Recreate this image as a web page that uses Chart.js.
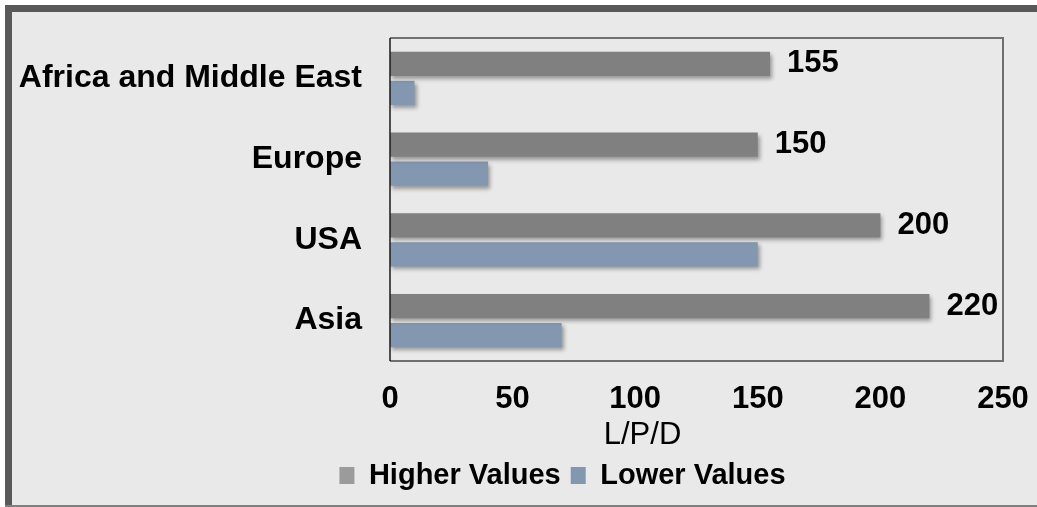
<!DOCTYPE html>
<html>
<head>
<meta charset="utf-8">
<script src="https://cdn.jsdelivr.net/npm/chart.js@4/dist/chart.umd.min.js"></script>
<style>
  html, body { margin: 0; padding: 0; background: #fff; }
  #wrap { width: 1037px; height: 507px; }
</style>
</head>
<body>
<div id="wrap"><canvas id="waterChart" width="1037" height="507"></canvas></div>
<script>
'use strict';

// data
const regions = ['Africa and Middle East', 'Europe', 'USA', 'Asia'];
const higherValues = [155, 150, 200, 220];
const lowerValues = [10, 40, 150, 70];
const xTicks = [0, 50, 100, 150, 200, 250];

const FONT = '"Liberation Sans", Arial, sans-serif';

// frame, panel background and the plot border
const framePlugin = {
    id: 'frame',
    beforeDraw(chart) {
        const ctx = chart.ctx;
        ctx.save();
        ctx.fillStyle = '#ffffff';
        ctx.fillRect(0, 0, chart.width, chart.height);
        ctx.fillStyle = '#e9e9e9';
        ctx.fillRect(5, 5, chart.width - 5, chart.height - 7);
        ctx.fillStyle = '#595959';
        ctx.fillRect(5, 5, chart.width - 5, 7);
        ctx.fillRect(5, 5, 7, chart.height - 5);
        ctx.fillStyle = '#7f7f7f';
        ctx.fillRect(5, chart.height - 2, chart.width - 5, 2);
        ctx.restore();
    },
    beforeDatasetsDraw(chart) {
        const ctx = chart.ctx;
        ctx.save();
        ctx.shadowColor = 'rgba(0,0,0,0.35)';
        ctx.shadowBlur = 4;
        ctx.shadowOffsetX = 2;
        ctx.shadowOffsetY = 3;
    },
    afterDatasetsDraw(chart) {
        const ctx = chart.ctx;
        ctx.restore();
        const a = chart.chartArea;
        ctx.save();
        ctx.strokeStyle = '#707070';
        ctx.lineWidth = 2;
        ctx.beginPath();
        ctx.moveTo(a.left, a.top);
        ctx.lineTo(a.right, a.top);
        ctx.lineTo(a.right, a.bottom);
        ctx.lineTo(a.left, a.bottom);
        ctx.stroke();
        ctx.strokeStyle = '#1a1a1a';
        ctx.lineWidth = 1.5;
        ctx.beginPath();
        ctx.moveTo(a.left, a.top);
        ctx.lineTo(a.left, a.bottom);
        ctx.stroke();

        // value labels for the higher series
        const meta = chart.getDatasetMeta(0);
        ctx.fillStyle = '#000';
        ctx.font = 'bold 31px ' + FONT;
        ctx.textBaseline = 'middle';
        ctx.textAlign = 'left';
        meta.data.forEach((bar, i) => {
            ctx.fillText(String(higherValues[i]), bar.x + 17, bar.y);
        });
        ctx.restore();
    },
    afterLayout(chart) {
        // legend sits left of the plot centre in the original
        const lg = chart.legend;
        if (lg) {
            lg.left += 55;
            lg.right += 55;
        }
    }
};

new Chart(document.getElementById('waterChart'), {
    type: 'bar',
    data: {
        labels: regions,
        datasets: [{
            label: 'Higher Values',
            data: higherValues,
            backgroundColor: '#808080',
            categoryPercentage: 0.72,
            barPercentage: 0.83
        }, {
            label: 'Lower Values',
            data: lowerValues,
            backgroundColor: '#8497b0',
            categoryPercentage: 0.72,
            barPercentage: 0.83
        }]
    },
    options: {
        indexAxis: 'y',
        responsive: false,
        animation: false,
        layout: {
            padding: {left: 12, top: 38, right: 34, bottom: 7}
        },
        scales: {
            x: {
                min: 0,
                max: 250,
                afterBuildTicks(scale) {
                    scale.ticks = xTicks.map(v => ({value: v}));
                },
                grid: {display: false, drawTicks: false},
                border: {display: false},
                ticks: {
                    color: '#000',
                    padding: 20,
                    font: {family: FONT, size: 31, weight: 'bold'}
                },
                title: {
                    display: true,
                    text: 'L/P/D',
                    color: '#000',
                    padding: {top: 2, bottom: 0},
                    font: {family: FONT, size: 31, lineHeight: 1.0}
                },
                afterFit(scale) {
                    scale.height = 90;
                    scale.paddingLeft = 0;
                    scale.paddingRight = 0;
                    if (!scale._shifted) {
                        const orig = scale.drawTitle.bind(scale);
                        scale.drawTitle = function() {
                            scale.ctx.save();
                            scale.ctx.translate(-54, 0);
                            orig();
                            scale.ctx.restore();
                        };
                        scale._shifted = true;
                    }
                }
            },
            y: {
                grid: {display: false, drawTicks: false},
                border: {display: false},
                ticks: {
                    color: '#000',
                    padding: 28,
                    font: {family: FONT, size: 32, weight: 'bold'}
                },
                afterFit(scale) {
                    scale.width = 378;
                    scale.paddingTop = 0;
                    scale.paddingBottom = 0;
                }
            }
        },
        plugins: {
            tooltip: {enabled: false},
            legend: {
                position: 'bottom',
                labels: {
                    color: '#000',
                    boxWidth: 15,
                    boxHeight: 17,
                    padding: 10,
                    font: {family: FONT, size: 29, weight: 'bold'},
                    generateLabels(chart) {
                        const cols = ['#9b9b9b', '#8497b0'];
                        return chart.data.datasets.map((ds, i) => ({
                            text: ds.label,
                            fillStyle: cols[i],
                            strokeStyle: cols[i],
                            lineWidth: 0,
                            fontColor: '#000',
                            datasetIndex: i
                        }));
                    }
                }
            }
        }
    },
    plugins: [framePlugin]
});
</script>
</body>
</html>
